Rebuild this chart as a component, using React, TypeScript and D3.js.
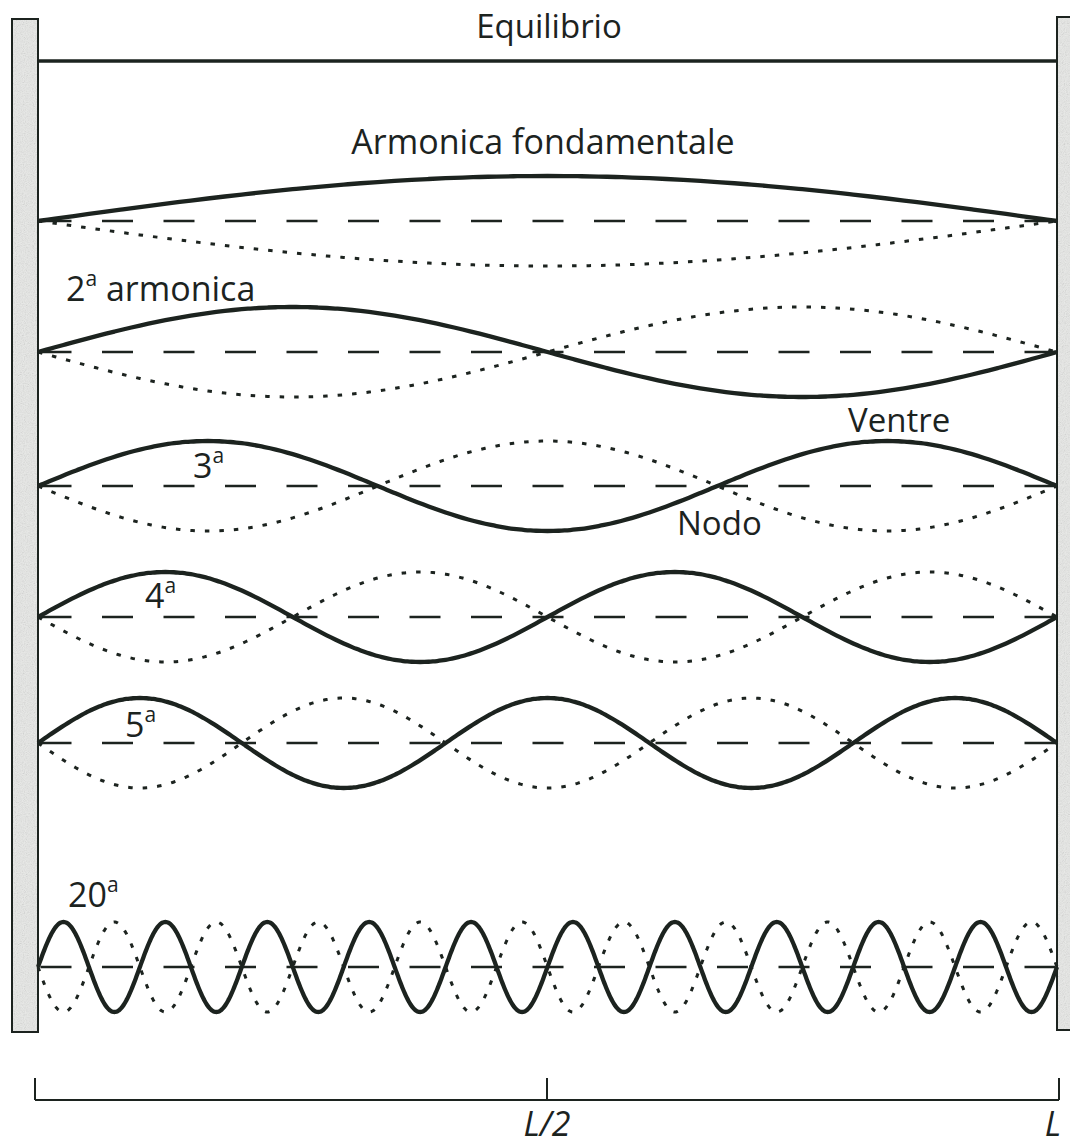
import React from "react";
import * as d3 from "d3";

// ---- data ----
const harmonicNumbers = [1, 2, 3, 4, 5, 20];
const harmonicMain = ["Armonica fondamentale", "2", "3", "4", "5", "20"];
const harmonicSup = ["", "a", "a", "a", "a", "a"];
const harmonicTail = ["", " armonica", "", "", "", ""];
const titleLabel = "Equilibrio";
const annotationLabels = ["Ventre", "Nodo"];
const scaleTicks = [0, 0.5, 1];
const scaleTickLabels = ["", "L/2", "L"];

// ---- layout ----
const W = 1070;
const H = 1146;
const INK = "#1c231f";
const FONT = "'Open Sans', 'DejaVu Sans', sans-serif";
const stringLeft = 38;
const stringRight = 1057;
const amp = 45;
const equilibriumY = 61;
const rowY = d3.scaleOrdinal<number, number>().domain(harmonicNumbers).range([221, 352, 486, 617, 743, 967]);
// label anchor positions per row: [x, baseline, anchor]
const labelPos: [number, number, string][] = [
  [543, 154, "middle"],
  [66, 301, "start"],
  [193, 478, "start"],
  [145, 608, "start"],
  [125, 737, "start"],
  [68, 907, "start"],
];
const annotationPos: [number, number][] = [
  [848, 432],
  [677, 535],
];

const x = d3.scaleLinear().domain([0, 1]).range([stringLeft, stringRight]);
const xAxis = d3.scaleLinear().domain([0, 1]).range([35, 1059]);
const axisY = 1100;

function wavePath(n: number, sign: number): string {
  const base = rowY(n);
  const samples = d3.range(0, 1.00001, 1 / (n * 60));
  const line = d3
    .line<number>()
    .x((t) => x(t))
    .y((t) => base - sign * amp * Math.sin(n * Math.PI * t))
    .curve(d3.curveCatmullRom);
  return line(samples) || "";
}

export default function App() {
  return (
    <svg
      width={W}
      height={H}
      viewBox={`0 0 ${W} ${H}`}
      style={{ position: "absolute", left: 0, top: 0, background: "#fff", display: "block" }}
      fontFamily={FONT}
    >
      <defs>
        <filter id="speckle" x="0" y="0" width="100%" height="100%">
          <feTurbulence type="fractalNoise" baseFrequency="0.9" numOctaves="2" seed="7" result="n" />
          <feColorMatrix in="n" type="saturate" values="0" result="g" />
          <feComposite in="g" in2="SourceGraphic" operator="in" />
        </filter>
      </defs>
      <rect x={0} y={0} width={W} height={H} fill="#fff" />

      {/* walls */}
      {[
        [12, 19, 26, 1013],
        [1057, 17, 30, 1013],
      ].map(([wx, wy, ww, wh], i) => (
        <g key={"wall" + i}>
          <rect x={wx} y={wy} width={ww} height={wh} fill="#e9eae8" />
          <rect x={wx} y={wy} width={ww} height={wh} fill="#fff" filter="url(#speckle)" opacity={0.35} />
          <rect x={wx} y={wy} width={ww} height={wh} fill="none" stroke={INK} strokeWidth={2} />
        </g>
      ))}

      {/* equilibrium */}
      <line x1={x(0)} x2={x(1)} y1={equilibriumY} y2={equilibriumY} stroke={INK} strokeWidth={3.5} />
      <text x={549} y={38} textAnchor="middle" fontSize={33} fill={INK}>
        {titleLabel}
      </text>

      {/* harmonics */}
      {harmonicNumbers.map((n, i) => {
        const base = rowY(n);
        const [lx, ly, anchor] = labelPos[i];
        return (
          <g key={"h" + n}>
            <line
              x1={x(0)}
              x2={x(1)}
              y1={base}
              y2={base}
              stroke={INK}
              strokeWidth={2.5}
              strokeDasharray="31 30.5"
              strokeDashoffset={59}
            />
            <path d={wavePath(n, -1)} fill="none" stroke={INK} strokeWidth={3} strokeDasharray="4.5 10" strokeLinecap="butt" />
            <path d={wavePath(n, 1)} fill="none" stroke={INK} strokeWidth={4.3} strokeLinejoin="round" />
            <text x={lx} y={ly} textAnchor={anchor} fontSize={34} fill={INK}>
              {harmonicMain[i]}
              {harmonicSup[i] && (
                <tspan fontSize={21} dy={-15}>
                  {harmonicSup[i]}
                </tspan>
              )}
              {harmonicTail[i] && (
                <tspan dy={15}>{harmonicTail[i]}</tspan>
              )}
            </text>
          </g>
        );
      })}

      {annotationLabels.map((t, i) => (
        <text key={t} x={annotationPos[i][0]} y={annotationPos[i][1]} fontSize={33} fill={INK}>
          {t}
        </text>
      ))}

      {/* length scale */}
      <line x1={xAxis(0)} x2={xAxis(1)} y1={axisY} y2={axisY} stroke={INK} strokeWidth={2} />
      {scaleTicks.map((t, i) => (
        <g key={"t" + i}>
          <line x1={xAxis(t)} x2={xAxis(t)} y1={axisY - 22} y2={axisY} stroke={INK} strokeWidth={2} />
          {scaleTickLabels[i] && (
            <text
              x={i === scaleTicks.length - 1 ? xAxis(t) + 2 : xAxis(t)}
              y={1136}
              textAnchor={i === scaleTicks.length - 1 ? "end" : "middle"}
              fontSize={34}
              fontStyle="italic"
              fill={INK}
            >
              {scaleTickLabels[i]}
            </text>
          )}
        </g>
      ))}
    </svg>
  );
}
